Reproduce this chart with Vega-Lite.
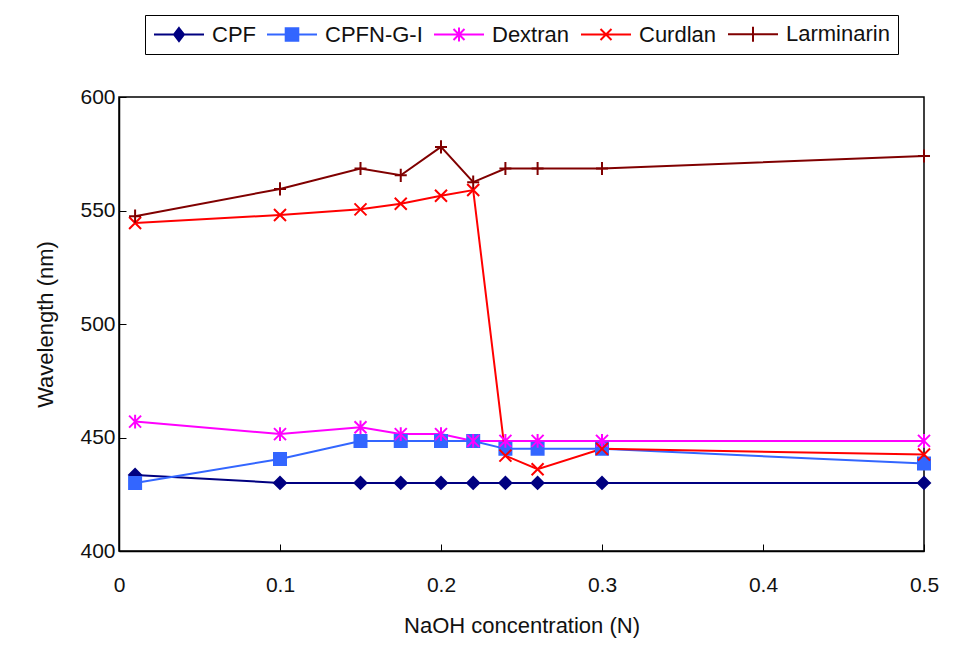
{
  "$schema": "https://vega.github.io/schema/vega-lite/v6.json",
  "width": 805,
  "height": 454,
  "autosize": {"type": "none"},
  "padding": {"left": 119, "top": 97, "right": 31, "bottom": 110},
  "background": "white",
  "config": {
    "font": "Liberation Sans",
    "view": {"stroke": "black", "strokeWidth": 1.5},
    "axis": {
      "grid": false,
      "domainColor": "black",
      "domainWidth": 1.5,
      "tickColor": "black",
      "tickWidth": 1,
      "tickSize": -7,
      "labelColor": "#111111",
      "labelFont": "Liberation Sans",
      "labelFontSize": 21,
      "titleColor": "#111111",
      "titleFont": "Liberation Sans",
      "titleFontSize": 22,
      "titleFontWeight": "normal"
    }
  },
  "data": {
    "values": [
      {"naoh": 0.01, "wavelength": 433.5, "series": "CPF"},
      {"naoh": 0.1, "wavelength": 430, "series": "CPF"},
      {"naoh": 0.15, "wavelength": 430, "series": "CPF"},
      {"naoh": 0.175, "wavelength": 430, "series": "CPF"},
      {"naoh": 0.2, "wavelength": 430, "series": "CPF"},
      {"naoh": 0.22, "wavelength": 430, "series": "CPF"},
      {"naoh": 0.24, "wavelength": 430, "series": "CPF"},
      {"naoh": 0.26, "wavelength": 430, "series": "CPF"},
      {"naoh": 0.3, "wavelength": 430, "series": "CPF"},
      {"naoh": 0.5, "wavelength": 430, "series": "CPF"},
      {"naoh": 0.01, "wavelength": 430, "series": "CPFN-G-I"},
      {"naoh": 0.1, "wavelength": 440.5, "series": "CPFN-G-I"},
      {"naoh": 0.15, "wavelength": 448.5, "series": "CPFN-G-I"},
      {"naoh": 0.175, "wavelength": 448.5, "series": "CPFN-G-I"},
      {"naoh": 0.2, "wavelength": 448.5, "series": "CPFN-G-I"},
      {"naoh": 0.22, "wavelength": 448.5, "series": "CPFN-G-I"},
      {"naoh": 0.24, "wavelength": 445, "series": "CPFN-G-I"},
      {"naoh": 0.26, "wavelength": 445, "series": "CPFN-G-I"},
      {"naoh": 0.3, "wavelength": 445, "series": "CPFN-G-I"},
      {"naoh": 0.5, "wavelength": 438.5, "series": "CPFN-G-I"},
      {"naoh": 0.01, "wavelength": 457, "series": "Dextran"},
      {"naoh": 0.1, "wavelength": 451.5, "series": "Dextran"},
      {"naoh": 0.15, "wavelength": 454.5, "series": "Dextran"},
      {"naoh": 0.175, "wavelength": 451.5, "series": "Dextran"},
      {"naoh": 0.2, "wavelength": 451.5, "series": "Dextran"},
      {"naoh": 0.22, "wavelength": 448.5, "series": "Dextran"},
      {"naoh": 0.24, "wavelength": 448.5, "series": "Dextran"},
      {"naoh": 0.26, "wavelength": 448.5, "series": "Dextran"},
      {"naoh": 0.3, "wavelength": 448.5, "series": "Dextran"},
      {"naoh": 0.5, "wavelength": 448.5, "series": "Dextran"},
      {"naoh": 0.01, "wavelength": 544.5, "series": "Curdlan"},
      {"naoh": 0.1, "wavelength": 548, "series": "Curdlan"},
      {"naoh": 0.15, "wavelength": 550.5, "series": "Curdlan"},
      {"naoh": 0.175, "wavelength": 553, "series": "Curdlan"},
      {"naoh": 0.2, "wavelength": 556.5, "series": "Curdlan"},
      {"naoh": 0.22, "wavelength": 559, "series": "Curdlan"},
      {"naoh": 0.24, "wavelength": 442, "series": "Curdlan"},
      {"naoh": 0.26, "wavelength": 436, "series": "Curdlan"},
      {"naoh": 0.3, "wavelength": 445, "series": "Curdlan"},
      {"naoh": 0.5, "wavelength": 442.5, "series": "Curdlan"},
      {"naoh": 0.01, "wavelength": 547.5, "series": "Larminarin"},
      {"naoh": 0.1, "wavelength": 559.5, "series": "Larminarin"},
      {"naoh": 0.15, "wavelength": 568.5, "series": "Larminarin"},
      {"naoh": 0.175, "wavelength": 565.5, "series": "Larminarin"},
      {"naoh": 0.2, "wavelength": 578, "series": "Larminarin"},
      {"naoh": 0.22, "wavelength": 562.5, "series": "Larminarin"},
      {"naoh": 0.24, "wavelength": 568.5, "series": "Larminarin"},
      {"naoh": 0.26, "wavelength": 568.5, "series": "Larminarin"},
      {"naoh": 0.3, "wavelength": 568.5, "series": "Larminarin"},
      {"naoh": 0.5, "wavelength": 574, "series": "Larminarin"}
    ]
  },
  "encoding": {
    "x": {
      "field": "naoh",
      "type": "quantitative",
      "scale": {"domain": [0, 0.5], "nice": false, "zero": false},
      "axis": {
        "title": "NaOH concentration (N)",
        "values": [0, 0.1, 0.2, 0.3, 0.4, 0.5],
        "format": "~g",
        "labelPadding": 30,
        "titlePadding": 20,
        "labelFlush": false
      }
    },
    "y": {
      "field": "wavelength",
      "type": "quantitative",
      "scale": {"domain": [400, 600], "nice": false, "zero": false},
      "axis": {
        "title": "Wavelength (nm)",
        "values": [400, 450, 500, 550, 600],
        "labelPadding": 11,
        "titlePadding": 22
      }
    }
  },
  "layer": [
    {
      "mark": {"type": "line", "strokeWidth": 2},
      "encoding": {
        "color": {
          "field": "series",
          "type": "nominal",
          "scale": {
            "domain": ["CPF", "CPFN-G-I", "Dextran", "Curdlan", "Larminarin"],
            "range": ["#000080", "#3366FF", "#FF00FF", "#FF0000", "#800000"]
          },
          "legend": {
            "title": null,
            "orient": "none",
            "legendX": 26,
            "legendY": -82,
            "direction": "horizontal",
            "columns": 5,
            "strokeColor": "black",
            "padding": 8,
            "symbolSize": 400,
            "symbolOffset": 15,
            "labelOffset": 22,
            "columnPadding": 7,
            "labelFont": "Liberation Sans",
            "labelFontSize": 22,
            "labelColor": "#111111",
            "symbolStrokeWidth": 2,
            "symbolType": {"expr": "datum.value === 'CPF' ? 'M-2.5,0H2.5M0,-0.65L0.5,0L0,0.65L-0.5,0Z' : datum.value === 'CPFN-G-I' ? 'M-2.5,0H2.5M-0.63,-0.63H0.63V0.63H-0.63Z' : datum.value === 'Dextran' ? 'M-2.5,0H2.5M-0.55,-0.55L0.55,0.55M-0.55,0.55L0.55,-0.55M0,-0.7V0.7' : datum.value === 'Curdlan' ? 'M-2.5,0H2.5M-0.55,-0.55L0.55,0.55M-0.55,0.55L0.55,-0.55' : 'M-2.5,0H2.5M0,-0.75V0.75'"},
            "symbolFillColor": {"expr": "scale('color', datum.value)"},
            "encoding": {
              "symbols": {
                "fill": {"value": {"expr": "scale('color', datum.value)"}},
                "stroke": {"value": {"expr": "scale('color', datum.value)"}},
                "strokeWidth": {"value": 2},
                "opacity": {"value": 1}
              }
            }
          }
        }
      }
    },
    {
      "mark": {"type": "point", "filled": true, "size": 144, "strokeWidth": 2, "opacity": 1},
      "encoding": {
        "color": {
          "field": "series",
          "type": "nominal",
          "scale": {
            "domain": ["CPF", "CPFN-G-I", "Dextran", "Curdlan", "Larminarin"],
            "range": ["#000080", "#3366FF", "#FF00FF", "#FF0000", "#800000"]
          },
          "legend": null
        },
        "shape": {
          "field": "series",
          "type": "nominal",
          "scale": {
            "domain": ["Larminarin", "Curdlan", "Dextran", "CPFN-G-I", "CPF"],
            "range": [
              "M-1,0H1M0,-1.1V1.1",
              "M-1,-1L1,1M-1,1L1,-1",
              "M-1,-1L1,1M-1,1L1,-1M0,-1.15V1.15",
              "square",
              "diamond"
            ]
          },
          "legend": null
        },
        "stroke": {
          "field": "series",
          "type": "nominal",
          "scale": {
            "domain": ["Larminarin", "Curdlan", "Dextran", "CPFN-G-I", "CPF"],
            "range": ["#800000", "#FF0000", "#FF00FF", "#3366FF", "#000080"]
          },
          "legend": null
        }
      }
    }
  ]
}
